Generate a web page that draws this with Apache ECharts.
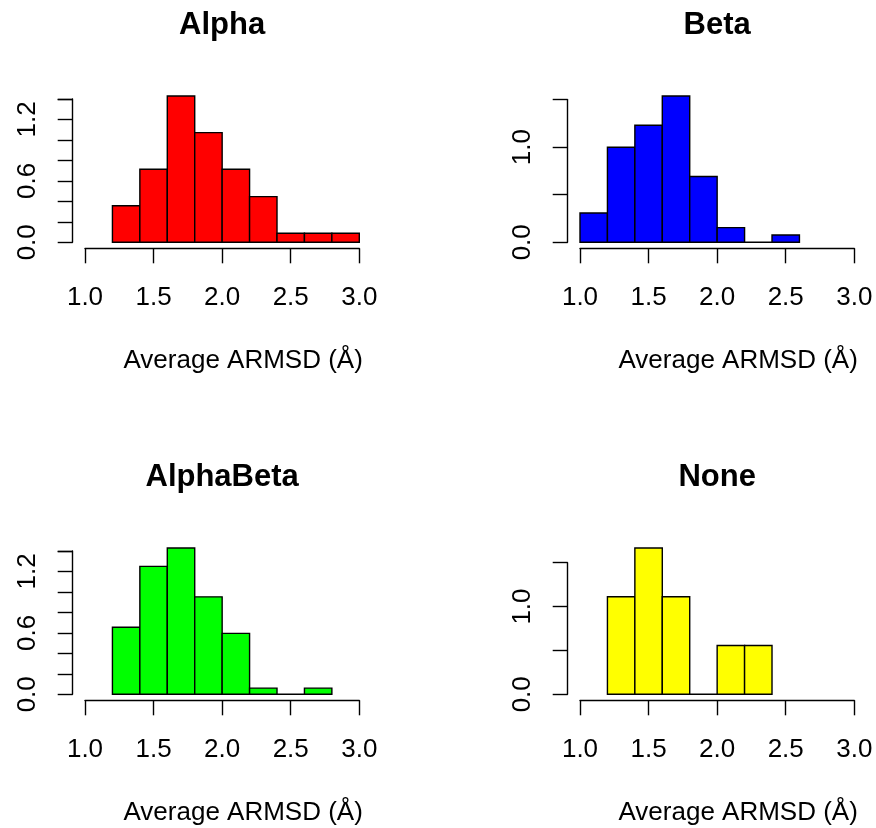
<!DOCTYPE html>
<html>
<head>
<meta charset="utf-8">
<script src="https://cdn.jsdelivr.net/npm/echarts@6/dist/echarts.min.js"></script>
<style>
html,body{margin:0;padding:0;background:#fff;}
#chart{width:876px;height:828px;}
</style>
</head>
<body>
<div id="chart"></div>
<script>
// ---- data (histogram densities, bin width 0.2) ----
const binWidth = 0.2;
const panelTitles = ['Alpha', 'Beta', 'AlphaBeta', 'None'];
const panelColors = ['#FF0000', '#0000FF', '#00FF00', '#FFFF00'];
const xLabelText = 'Average ARMSD (\u00C5)';
const xTicks = [1.0, 1.5, 2.0, 2.5, 3.0];

const alphaBins = [1.2, 1.4, 1.6, 1.8, 2.0, 2.2, 2.4, 2.6, 2.8];
const alphaDensity = [0.357, 0.714, 1.429, 1.071, 0.714, 0.446, 0.089, 0.089, 0.089];

const betaBins = [1.0, 1.2, 1.4, 1.6, 1.8, 2.0, 2.2, 2.4];
const betaDensity = [0.308, 1.0, 1.231, 1.538, 0.692, 0.154, 0, 0.077];

const alphaBetaBins = [1.2, 1.4, 1.6, 1.8, 2.0, 2.2, 2.4, 2.6];
const alphaBetaDensity = [0.655, 1.25, 1.429, 0.952, 0.595, 0.060, 0, 0.060];

const noneBins = [1.2, 1.4, 1.6, 1.8, 2.0, 2.2];
const noneDensity = [1.111, 1.667, 1.111, 0, 0.556, 0.556];

// y tick interval and shown y tick labels per panel
const yIntervals = [0.2, 0.5, 0.2, 0.5];
const yShownLabels = [['0.0', '0.6', '1.2'], ['0.0', '1.0'], ['0.0', '0.6', '1.2'], ['0.0', '1.0']];

const panelBins = [alphaBins, betaBins, alphaBetaBins, noneBins];
const panelDensity = [alphaDensity, betaDensity, alphaBetaDensity, noneDensity];

// ---- layout ----
const FONT = '"Liberation Sans", Arial, Helvetica, sans-serif';
const colLeft = [85, 580];          // pixel of x = 1.0
const plotWidth = 274.3;            // 1.0 -> 3.0
const rowBase = [242.3, 694.3];     // pixel of y = 0
const maxBarPx = 146.3;             // height of tallest bar

const chart = echarts.init(document.getElementById('chart'), null, {renderer: 'canvas'});

const grids = [], xAxes = [], yAxes = [], series = [], graphics = [];
for (let i = 0; i < 4; i++) {
  const col = i % 2, row = Math.floor(i / 2);
  const dens = panelDensity[i];
  const maxD = Math.max(...dens);
  const iv = yIntervals[i];
  const lastTick = Math.floor(maxD / iv + 1e-9) * iv;
  const h = maxBarPx * lastTick / maxD;
  grids.push({left: colLeft[col], width: plotWidth, top: rowBase[row] - h, height: h, containLabel: false});
  xAxes.push({
    type: 'value', gridIndex: i, min: 1, max: 3, interval: 0.5, offset: 6,
    axisLine: {show: true, onZero: false, lineStyle: {color: '#000', width: 1.4}},
    axisTick: {show: true, length: 15, lineStyle: {color: '#000', width: 1.4}},
    axisLabel: {show: true, margin: 37, fontSize: 26, color: '#000', fontFamily: FONT,
      formatter: v => v.toFixed(1)},
    splitLine: {show: false}
  });
  const shown = yShownLabels[i];
  yAxes.push({
    type: 'value', gridIndex: i, min: 0, max: lastTick, interval: iv, offset: 12.3,
    axisLine: {show: true, onZero: false, lineStyle: {color: '#000', width: 1.4}},
    axisTick: {show: true, length: 15, lineStyle: {color: '#000', width: 1.4}},
    axisLabel: {show: true, rotate: 90, margin: 32, fontSize: 26, color: '#000', fontFamily: FONT,
      showMinLabel: true, showMaxLabel: true, hideOverlap: false,
      formatter: v => { const s = v.toFixed(1); return shown.indexOf(s) >= 0 ? s : ''; }},
    splitLine: {show: false}
  });
  const color = panelColors[i];
  series.push({
    type: 'custom', xAxisIndex: i, yAxisIndex: i, clip: false,
    data: panelBins[i].map((b, k) => [b, b + binWidth, dens[k]]),
    renderItem: function (params, api) {
      const p0 = api.coord([api.value(0), api.value(2)]);
      const p1 = api.coord([api.value(1), 0]);
      return {
        type: 'rect',
        shape: {x: p0[0], y: p0[1], width: p1[0] - p0[0], height: p1[1] - p0[1]},
        style: {fill: color, stroke: '#000', lineWidth: 1.4}
      };
    }
  });
  const cx = colLeft[col] + plotWidth / 2;
  graphics.push({
    type: 'text', x: cx, y: rowBase[row] - 216.8,
    style: {text: panelTitles[i], font: 'bold 31px ' + FONT, fill: '#000', textAlign: 'center', textVerticalAlign: 'middle'}
  });
  graphics.push({
    type: 'text', x: cx + 21, y: rowBase[row] + 118.5,
    style: {text: xLabelText, font: '26px ' + FONT, fill: '#000', textAlign: 'center', textVerticalAlign: 'middle'}
  });
}

chart.setOption({
  backgroundColor: '#fff',
  animation: false,
  grid: grids,
  xAxis: xAxes,
  yAxis: yAxes,
  series: series,
  graphic: graphics
});
</script>
</body>
</html>
